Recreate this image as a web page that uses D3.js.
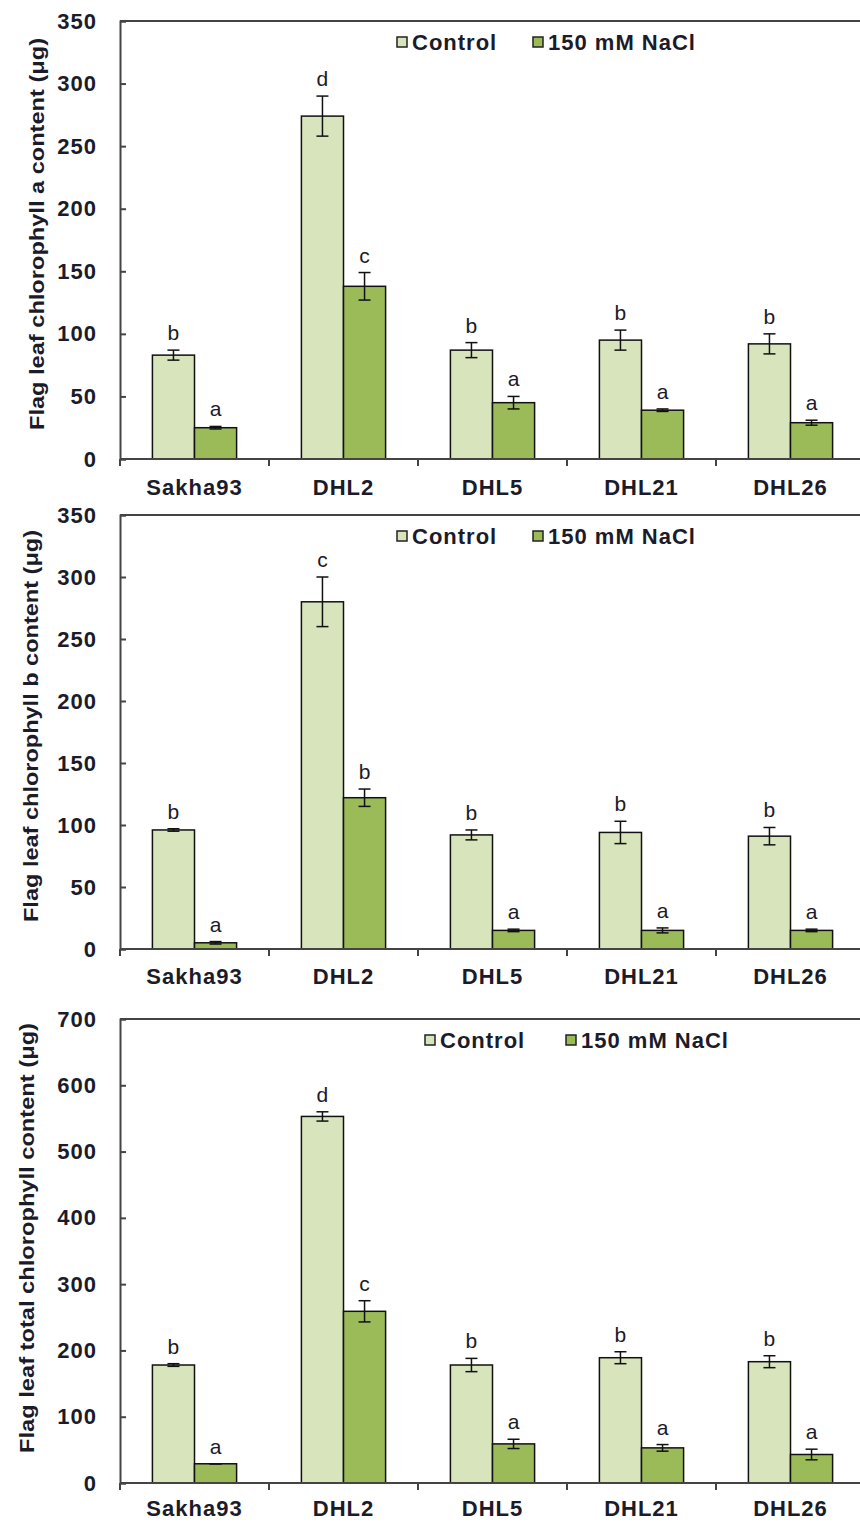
<!DOCTYPE html>
<html>
<head>
<meta charset="utf-8">
<script src="https://cdn.jsdelivr.net/npm/d3@7"></script>
<style>
  html, body { margin: 0; padding: 0; background: #fff; }
  svg { display: block; }
  text { font-family: "Liberation Sans", Arial, sans-serif; fill: #1b1b2a; }
</style>
</head>
<body>
<svg id="chart" width="860" height="1523"></svg>
<script>
// Genotypes and treatments
const genotypes = ["Sakha93", "DHL2", "DHL5", "DHL21", "DHL26"];
const treatments = ["Control", "150 mM NaCl"];

// Chlorophyll a (µg)
const chlA_control = [83, 274, 87, 95, 92];
const chlA_controlErr = [4, 16, 6, 8, 8];
const chlA_salt = [25, 138, 45, 39, 29];
const chlA_saltErr = [1, 11, 5, 1, 2];
const chlA_controlLetters = ["b", "d", "b", "b", "b"];
const chlA_saltLetters = ["a", "c", "a", "a", "a"];

// Chlorophyll b (µg)
const chlB_control = [96, 280, 92, 94, 91];
const chlB_controlErr = [1, 20, 4, 9, 7];
const chlB_salt = [5, 122, 15, 15, 15];
const chlB_saltErr = [1, 7, 1, 2, 1];
const chlB_controlLetters = ["b", "c", "b", "b", "b"];
const chlB_saltLetters = ["a", "b", "a", "a", "a"];

// Total chlorophyll (µg)
const chlT_control = [178, 553, 178, 189, 183];
const chlT_controlErr = [2, 7, 10, 9, 9];
const chlT_salt = [29, 259, 59, 53, 43];
const chlT_saltErr = [0, 16, 7, 5, 8];
const chlT_controlLetters = ["b", "d", "b", "b", "b"];
const chlT_saltLetters = ["a", "c", "a", "a", "a"];

// Axis settings
const yTicksAB = [0, 50, 100, 150, 200, 250, 300, 350];
const yTicksTotal = [0, 100, 200, 300, 400, 500, 600, 700];

const fillColors = ["#d8e4bc", "#9bbb59"];

const panels = [
  {
    title: "Flag leaf chlorophyll a content (μg)",
    top: 21, bottom: 459, max: 350, ticks: yTicksAB,
    titleX: 36, titleY: 234, titleLen: 392,
    legendX: 397, legendGap: 136, labelDy: 36,
    values: [chlA_control, chlA_salt], errs: [chlA_controlErr, chlA_saltErr],
    letters: [chlA_controlLetters, chlA_saltLetters]
  },
  {
    title: "Flag leaf chlorophyll b content (μg)",
    top: 515, bottom: 949, max: 350, ticks: yTicksAB,
    titleX: 30, titleY: 726, titleLen: 392,
    legendX: 397, legendGap: 136, labelDy: 35,
    values: [chlB_control, chlB_salt], errs: [chlB_controlErr, chlB_saltErr],
    letters: [chlB_controlLetters, chlB_saltLetters]
  },
  {
    title: "Flag leaf total chlorophyll content (μg)",
    top: 1019, bottom: 1483, max: 700, ticks: yTicksTotal,
    titleX: 26, titleY: 1238, titleLen: 430,
    legendX: 425, legendGap: 141, labelDy: 33,
    values: [chlT_control, chlT_salt], errs: [chlT_controlErr, chlT_saltErr],
    letters: [chlT_controlLetters, chlT_saltLetters]
  }
];

const svg = d3.select("#chart");
const left = 120, right = 865;

const x = d3.scaleBand().domain(genotypes).range([left, right]).padding(0);
const xInner = d3.scaleBand().domain(treatments).range([0, x.bandwidth()])
  .paddingInner(0).paddingOuter(0.77);

panels.forEach(p => {
  const g = svg.append("g");
  const y = d3.scaleLinear().domain([0, p.max]).range([p.bottom, p.top]);

  // Frame: top border line
  g.append("line")
    .attr("x1", left).attr("x2", right)
    .attr("y1", p.top).attr("y2", p.top)
    .attr("stroke", "#444").attr("stroke-width", 2);

  // Bars, error bars and significance letters
  treatments.forEach((t, ti) => {
    genotypes.forEach((gn, gi) => {
      const v = p.values[ti][gi];
      const e = p.errs[ti][gi];
      const bx = x(gn) + xInner(t);
      const bw = xInner.bandwidth();
      g.append("rect")
        .attr("x", bx).attr("y", y(v))
        .attr("width", bw).attr("height", y(0) - y(v))
        .attr("fill", fillColors[ti])
        .attr("stroke", "#111").attr("stroke-width", 1.5);
      const cx = bx + bw / 2;
      g.append("line")
        .attr("x1", cx).attr("x2", cx)
        .attr("y1", y(v - e)).attr("y2", y(v + e))
        .attr("stroke", "#111").attr("stroke-width", 1.5);
      [v - e, v + e].forEach(ev => {
        g.append("line")
          .attr("x1", cx - 6).attr("x2", cx + 6)
          .attr("y1", y(ev)).attr("y2", y(ev))
          .attr("stroke", "#111").attr("stroke-width", 1.5);
      });
      g.append("text")
        .attr("x", cx).attr("y", y(v + e) - 10)
        .attr("text-anchor", "middle")
        .style("font-size", "21px")
        .text(p.letters[ti][gi]);
    });
  });

  // Y axis
  const yAxis = d3.axisLeft(y).tickValues(p.ticks).tickSize(-6).tickPadding(23)
    .tickFormat(d3.format("d"));
  const ya = g.append("g").attr("transform", `translate(${left},0)`).call(yAxis);
  ya.select(".domain").attr("stroke", "#444").attr("stroke-width", 2);
  ya.selectAll(".tick line").attr("stroke", "#444").attr("stroke-width", 2);
  ya.selectAll(".tick text")
    .style("font-size", "22px").style("font-weight", "bold")
    .style("letter-spacing", "1px")
    .style("font-family", "'Liberation Sans', Arial, sans-serif")
    .attr("fill", "#1b1b2a");

  // X axis with ticks at category boundaries
  const xa = g.append("g").attr("transform", `translate(0,${p.bottom})`);
  xa.append("line").attr("x1", left).attr("x2", right)
    .attr("stroke", "#444").attr("stroke-width", 2);
  const boundaries = genotypes.map(gn => x(gn)).concat([right]);
  xa.selectAll(".bt").data(boundaries).join("line")
    .attr("x1", d => d).attr("x2", d => d)
    .attr("y1", 0).attr("y2", 7)
    .attr("stroke", "#444").attr("stroke-width", 2);
  xa.selectAll(".xl").data(genotypes).join("text")
    .attr("x", d => x(d) + x.bandwidth() / 2)
    .attr("y", p.labelDy)
    .attr("text-anchor", "middle")
    .style("font-size", "22px").style("font-weight", "bold")
    .style("letter-spacing", "1px")
    .text(d => d);

  // Y title
  g.append("text")
    .attr("transform", `translate(${p.titleX},${p.titleY}) rotate(-90)`)
    .attr("text-anchor", "middle")
    .attr("dominant-baseline", "central")
    .attr("textLength", p.titleLen)
    .attr("lengthAdjust", "spacingAndGlyphs")
    .style("font-size", "21px").style("font-weight", "bold")
    .text(p.title);

  // Legend
  const lg = g.append("g").attr("transform", `translate(${p.legendX},${p.top + 16})`);
  treatments.forEach((t, i) => {
    const lx = i * p.legendGap;
    lg.append("rect")
      .attr("x", lx).attr("y", 0).attr("width", 10).attr("height", 10)
      .attr("fill", fillColors[i]).attr("stroke", "#222").attr("stroke-width", 1.5);
    lg.append("text")
      .attr("x", lx + 15).attr("y", 13)
      .style("font-size", "22px").style("font-weight", "bold")
      .style("letter-spacing", "1px")
      .text(t);
  });
});
</script>
</body>
</html>
